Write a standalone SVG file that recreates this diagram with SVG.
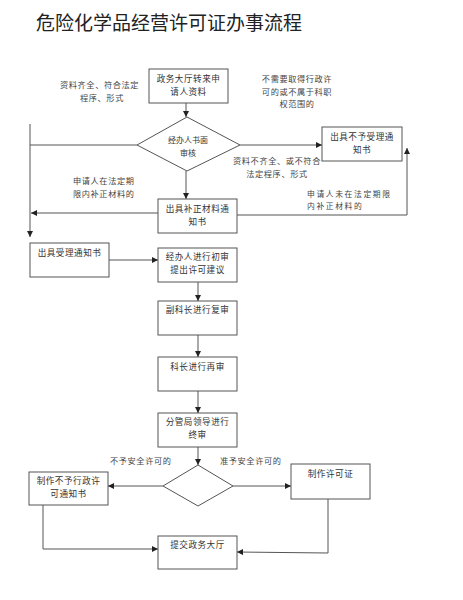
<svg xmlns="http://www.w3.org/2000/svg" width="463" height="600" viewBox="0 0 463 600">
<style>
.bg{fill:#fff}
.box{fill:#fff;stroke:#555;stroke-width:1}
.ln{fill:none;stroke:#555;stroke-width:1}
.t{font-family:"Noto Sans CJK SC","Liberation Sans",sans-serif;font-size:8.6px;letter-spacing:0.5px;fill:#333;text-anchor:middle}
.l{font-family:"Noto Sans CJK SC","Liberation Sans",sans-serif;font-size:8.2px;letter-spacing:0.6px;fill:#444}
.title{font-family:"Noto Sans CJK SC","Liberation Sans",sans-serif;font-size:19px;fill:#222}
</style>
<defs>
<marker id="ah" viewBox="0 0 8 8" refX="8" refY="4" markerWidth="6" markerHeight="6" orient="auto" markerUnits="userSpaceOnUse">
<path d="M0,0 L8,4 L0,8 z" fill="#222"/>
</marker>
</defs>
<rect class="bg" x="0" y="0" width="463" height="600"/>
<text class="title" x="36" y="30">危险化学品经营许可证办事流程</text>

<g id="connectors">
<line class="ln" x1="186" y1="103" x2="186" y2="117" marker-end="url(#ah)"/>
<line class="ln" x1="137" y1="145" x2="30" y2="145"/>
<line class="ln" x1="30" y1="124" x2="30" y2="237" marker-end="url(#ah)"/>
<line class="ln" x1="240" y1="145" x2="322" y2="145" marker-end="url(#ah)"/>
<line class="ln" x1="186" y1="171" x2="186" y2="199" marker-end="url(#ah)"/>
<line class="ln" x1="158" y1="213" x2="31" y2="213" marker-end="url(#ah)"/>
<polyline class="ln" points="237,215 407,215 407,148" marker-end="url(#ah)"/>
<line class="ln" x1="109" y1="260" x2="158" y2="260" marker-end="url(#ah)"/>
<line class="ln" x1="198" y1="282" x2="198" y2="301" marker-end="url(#ah)"/>
<line class="ln" x1="198" y1="335" x2="198" y2="357" marker-end="url(#ah)"/>
<line class="ln" x1="198" y1="391" x2="198" y2="413" marker-end="url(#ah)"/>
<line class="ln" x1="198" y1="447" x2="198" y2="465" marker-end="url(#ah)"/>
<line class="ln" x1="163" y1="486" x2="108" y2="486" marker-end="url(#ah)"/>
<line class="ln" x1="233" y1="486" x2="291" y2="486" marker-end="url(#ah)"/>
<polyline class="ln" points="43,505 43,549 158,549" marker-end="url(#ah)"/>
<polyline class="ln" points="328,499 328,553 237,552" marker-end="url(#ah)"/>
</g>

<g id="labels">
<text class="l" x="60" y="88">资料齐全、符合法定</text>
<text class="l" x="80" y="100.5">程序、形式</text>
<text class="l" x="297" y="82" text-anchor="middle">不需要取得行政许</text>
<text class="l" x="297" y="94.5" text-anchor="middle">可的或不属于科职</text>
<text class="l" x="297" y="107" text-anchor="middle">权范围的</text>
<text class="l" x="277" y="164" text-anchor="middle">资料不齐全、或不符合</text>
<text class="l" x="277" y="176.5" text-anchor="middle">法定程序、形式</text>
<text class="l" x="73" y="184">申请人在法定期</text>
<text class="l" x="73" y="196.5">限内补正材料的</text>
<text class="l" x="307" y="197" style="font-size:7.8px;letter-spacing:1.6px">申请人未在法定期限</text>
<text class="l" x="307" y="208.5" style="font-size:7.8px;letter-spacing:1.6px">内补正材料的</text>
<text class="l" x="110" y="464">不予安全许可的</text>
<text class="l" x="220" y="464">准予安全许可的</text>
</g>

<g id="n1"><rect class="box" x="149" y="69" width="79" height="34"/>
<text class="t" x="188.5" y="82">政务大厅转来申</text><text class="t" x="188.5" y="94.5">请人资料</text></g>
<g id="n2"><polygon class="box" points="137,145 187,117 240,145 187,171"/>
<text class="t" x="188" y="143" style="font-size:8px;letter-spacing:0">经办人书面</text><text class="t" x="188" y="156" style="font-size:8px;letter-spacing:0">审核</text></g>
<g id="n3"><rect class="box" x="322" y="127" width="80" height="34"/>
<text class="t" x="362" y="140">出具不予受理通</text><text class="t" x="362" y="152.5">知书</text></g>
<g id="n4"><rect class="box" x="158" y="199" width="79" height="34"/>
<text class="t" x="197.5" y="212">出具补正材料通</text><text class="t" x="197.5" y="224.5">知书</text></g>
<g id="n5"><rect class="box" x="30" y="243" width="79" height="34"/>
<text class="t" x="69.5" y="256">出具受理通知书</text></g>
<g id="n6"><rect class="box" x="158" y="248" width="79" height="34"/>
<text class="t" x="197.5" y="260">经办人进行初审</text><text class="t" x="197.5" y="272.5">提出许可建议</text></g>
<g id="n7"><rect class="box" x="158" y="301" width="79" height="34"/>
<text class="t" x="197.5" y="313">副科长进行复审</text></g>
<g id="n8"><rect class="box" x="158" y="357" width="79" height="34"/>
<text class="t" x="197.5" y="370">科长进行再审</text></g>
<g id="n9"><rect class="box" x="158" y="413" width="79" height="34"/>
<text class="t" x="197.5" y="425">分管局领导进行</text><text class="t" x="197.5" y="437.5">终审</text></g>
<g id="n10"><polygon class="box" points="163,486 198,465 233,486 198,506"/></g>
<g id="n11"><rect class="box" x="29" y="472" width="79" height="33"/>
<text class="t" x="68.5" y="484">制作不予行政许</text><text class="t" x="68.5" y="496.5">可通知书</text></g>
<g id="n12"><rect class="box" x="291" y="464" width="79" height="35"/>
<text class="t" x="330.5" y="477">制作许可证</text></g>
<g id="n13"><rect class="box" x="158" y="536" width="79" height="33"/>
<text class="t" x="197.5" y="548">提交政务大厅</text></g>
</svg>
